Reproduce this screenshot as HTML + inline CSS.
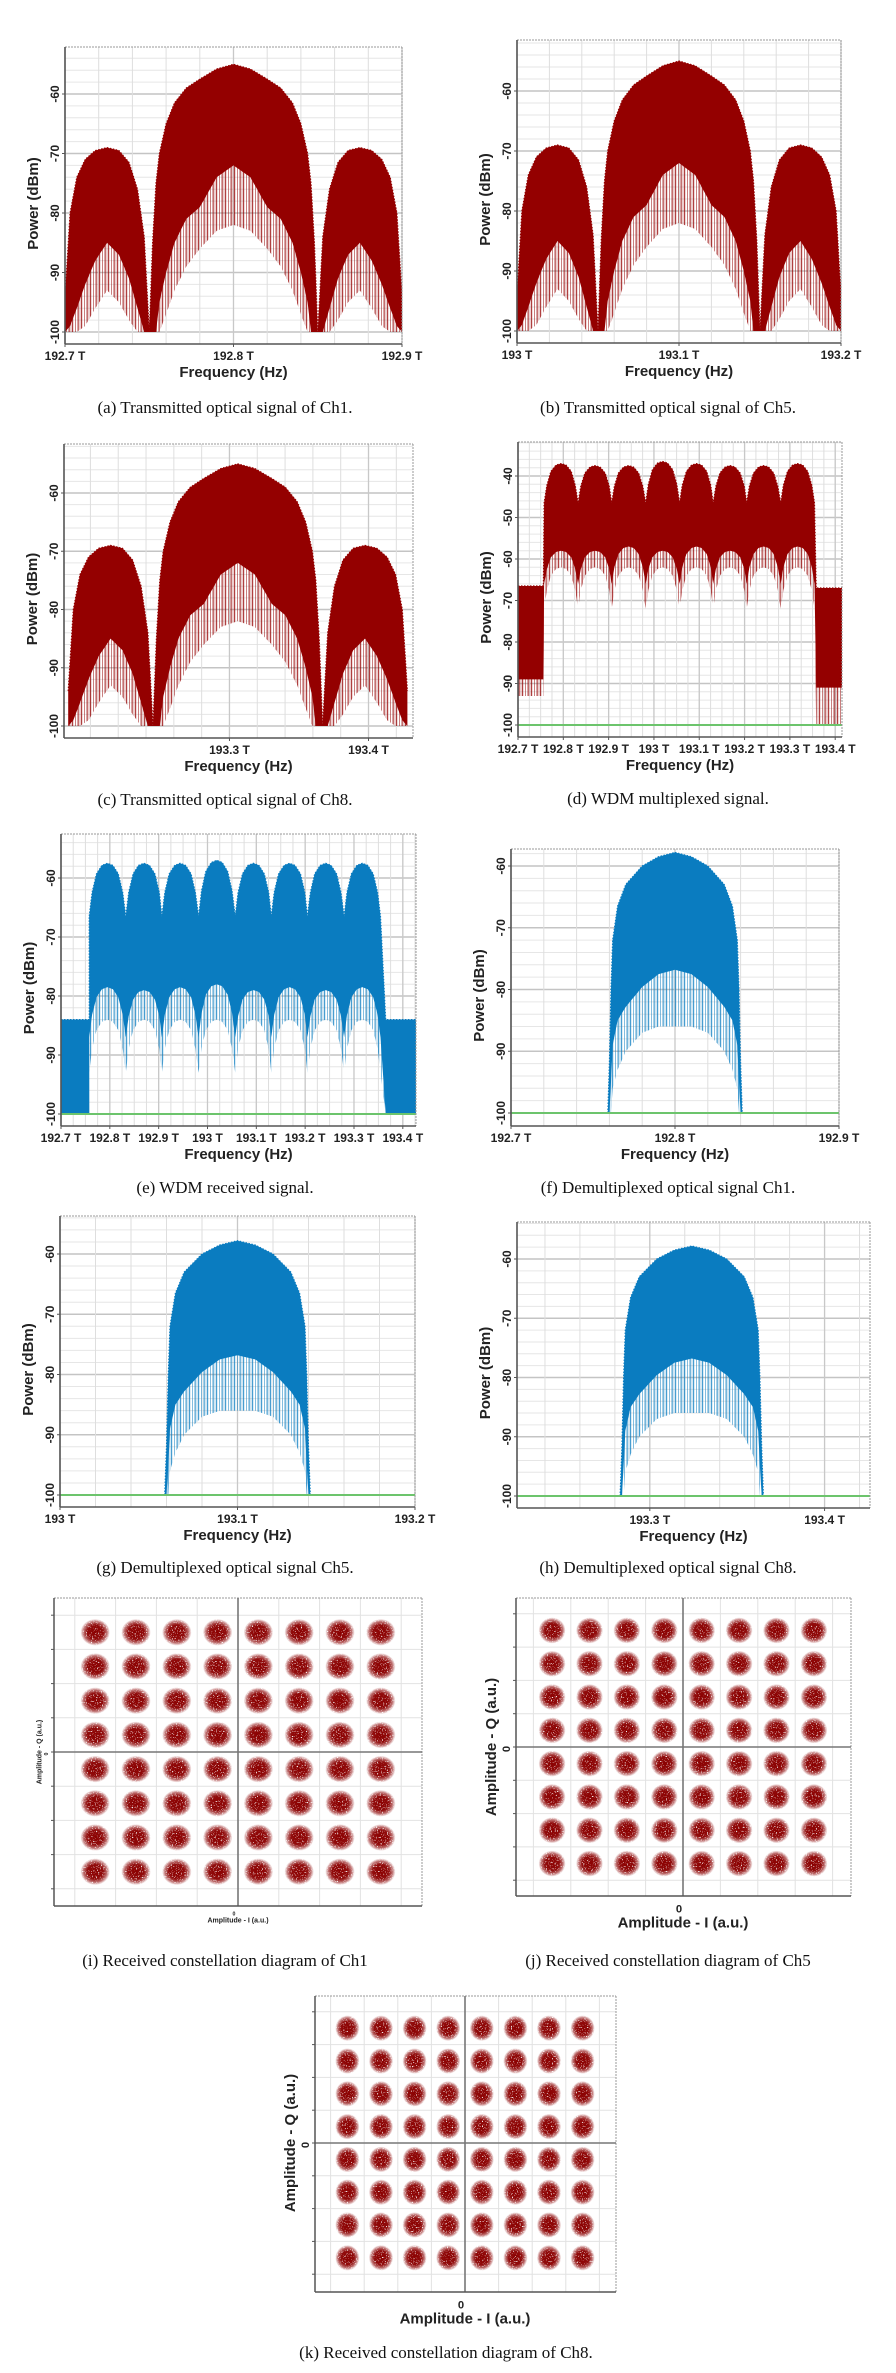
<!DOCTYPE html>
<html><head><meta charset="utf-8"><title>Optical spectra and constellations</title>
<style>
html,body{margin:0;padding:0;background:#fff;}
svg{display:block;}
.cap{font-family:"Liberation Serif",serif;font-size:17px;fill:#111;}
.tk{font-family:"Liberation Sans",sans-serif;font-size:12px;font-weight:bold;fill:#222;}
.ti{font-family:"Liberation Sans",sans-serif;font-size:15px;font-weight:bold;fill:#222;}
</style></head>
<body>
<svg id="fig" xmlns="http://www.w3.org/2000/svg" width="896" height="2373" viewBox="0 0 896 2373">
<defs>
<radialGradient id="blob">
<stop offset="0" stop-color="#8b0000" stop-opacity="1"/>
<stop offset="0.55" stop-color="#8b0000" stop-opacity="0.95"/>
<stop offset="0.8" stop-color="#8b0000" stop-opacity="0.55"/>
<stop offset="1" stop-color="#8b0000" stop-opacity="0"/>
</radialGradient>
<filter id="speck" x="0" y="0" width="1" height="1">
<feTurbulence type="fractalNoise" baseFrequency="0.8" numOctaves="1" seed="3" result="n"/>
<feColorMatrix in="n" type="matrix" values="0 0 0 0 0  0 0 0 0 0  0 0 0 0 0  0 0 0 -8 5.8" result="m"/>
<feComposite in="SourceGraphic" in2="m" operator="in"/>
</filter>
<pattern id="spikeRed" width="9" height="4" patternUnits="userSpaceOnUse">
<rect x="0" y="0" width="1.2" height="4" fill="#940000" fill-opacity="0.75"/>
<rect x="3" y="0" width="1" height="4" fill="#940000" fill-opacity="0.5"/>
<rect x="5.5" y="0" width="1.3" height="4" fill="#940000" fill-opacity="0.7"/>
<rect x="7.6" y="0" width="0.8" height="4" fill="#940000" fill-opacity="0.45"/>
</pattern>
<pattern id="spikeBlue" width="9" height="4" patternUnits="userSpaceOnUse">
<rect x="0" y="0" width="1.2" height="4" fill="#0a7cc0" fill-opacity="0.75"/>
<rect x="3" y="0" width="1" height="4" fill="#0a7cc0" fill-opacity="0.5"/>
<rect x="5.5" y="0" width="1.3" height="4" fill="#0a7cc0" fill-opacity="0.7"/>
<rect x="7.6" y="0" width="0.8" height="4" fill="#0a7cc0" fill-opacity="0.45"/>
</pattern>
</defs>
</svg>
<script>
// ---------- DATA ----------
const txOff = [-0.100,-0.097,-0.093,-0.088,-0.082,-0.075,-0.068,-0.062,-0.057,-0.053,-0.050,-0.048,-0.046,-0.044,-0.040,-0.035,-0.028,-0.020,-0.010,0.000,0.010,0.020,0.028,0.035,0.040,0.044,0.046,0.048,0.050,0.053,0.057,0.062,0.068,0.075,0.082,0.088,0.093,0.097,0.100];
const txUp  = [-94,-80,-74,-71,-69.5,-69,-69.5,-71.5,-76,-84,-100,-85,-75,-70,-65,-61.5,-59,-57.5,-55.8,-55,-55.8,-57.5,-59,-61.5,-65,-70,-75,-85,-100,-84,-76,-71.5,-69.5,-69,-69.5,-71,-74,-80,-94];
const txLo  = [-100,-99,-96,-92,-88,-85,-87,-91,-96,-100,-100,-100,-100,-95,-90,-85,-81,-79,-74,-72,-74,-79,-81,-85,-90,-95,-100,-100,-100,-100,-96,-91,-87,-85,-88,-92,-96,-99,-100];
const txSp  = [-100,-100,-100,-99,-96,-93,-95,-98,-100,-100,-100,-100,-100,-100,-97,-93,-89,-86,-83,-82,-83,-86,-89,-93,-97,-100,-100,-100,-100,-100,-100,-98,-95,-93,-96,-99,-100,-100,-100];
const txCenters = [192.8, 193.1, 193.306];

const dmOff = [-0.041,-0.040,-0.039,-0.038,-0.035,-0.030,-0.020,-0.010,0,0.010,0.020,0.030,0.035,0.038,0.039,0.040,0.041];
const dmUp  = [-100,-92,-80,-72,-66.5,-63,-60,-58.5,-57.8,-58.5,-60,-63,-66.5,-72,-80,-92,-100];
const dmLo  = [-100,-100,-95,-89,-85,-82.8,-79.6,-77.5,-76.8,-77.5,-79.6,-82.8,-85,-89,-95,-100,-100];
const dmSp  = [-100,-100,-100,-96,-93,-90,-87,-86,-86,-86,-87,-90,-93,-96,-100,-100,-100];
const dmCenters = [192.8, 193.1, 193.324];

const wdmCenters = [192.795,192.870,192.944,193.019,193.094,193.168,193.242,193.317];
const wdmSpacing = 0.0746;
const lobeT = [-0.5,-0.42,-0.3,-0.15,0,0.15,0.3,0.42];
const lobeW = [0,0.45,0.8,0.96,1,0.96,0.8,0.45];
const dPeak = [-37,-37.5,-37.5,-36.5,-37,-37.5,-37.5,-37];
const dLow  = [-58,-58,-57,-58,-57,-58,-57,-57];
const dDip = [-46.5,-66,-72], dPk = [-62];
const dSide = {lf:[192.700,192.756], top:[-66.5,-67], low:[-89,-91], sp:[-93,-100], rf:[193.358,193.415]};
const ePeak = [-57.5,-57.5,-57.5,-57,-57.5,-57.5,-57.5,-57.5];
const eLow  = [-78.5,-79,-78.5,-78,-79,-78.5,-79,-78.5];
const eDip = [-66.5,-87,-93], ePk = [-84];
const eSide = {lf:[192.700,192.758], top:[-84,-84], low:[-100,-100], sp:[-100,-100], rf:[193.365,193.427]};

const constLevels = [-7,-5,-3,-1,1,3,5,7];

// ---------- HELPERS ----------
const NS='http://www.w3.org/2000/svg';
const svg=document.getElementById('fig');
function mk(tag,attrs,parent){const e=document.createElementNS(NS,tag);for(const k in attrs)e.setAttribute(k,attrs[k]);(parent||svg).appendChild(e);return e;}
function txt(parent,x,y,s,cls,anchor,rot){const t=mk('text',{x:x,y:y,class:cls,'text-anchor':anchor||'middle'},parent);if(rot)t.setAttribute('transform','rotate(-90 '+x+' '+y+')');t.textContent=s;return t;}

function wdmSeries(peaks,lows,dip,pk,side){
  const f=[],u=[],l=[],s=[];
  for(let i=0;i<side.lf.length;i++){f.push(side.lf[i]);u.push(side.top[0]);l.push(side.low[0]);s.push(side.sp[0]);}
  for(let k=0;k<wdmCenters.length;k++){
    for(let j=0;j<lobeT.length;j++){
      const w=lobeW[j];
      f.push(wdmCenters[k]+lobeT[j]*wdmSpacing);
      u.push(dip[0]+(peaks[k]-dip[0])*w);
      l.push(dip[1]+(lows[k]-dip[1])*w);
      s.push(dip[2]+(pk[0]-dip[2])*w);
    }
  }
  f.push(wdmCenters[7]+0.5*wdmSpacing);u.push(dip[0]);l.push(dip[1]);s.push(dip[2]);
  for(let i=0;i<side.rf.length;i++){f.push(side.rf[i]);u.push(side.top[1]);l.push(side.low[1]);s.push(side.sp[1]);}
  return [f,u,l,s];
}

let clipN=0;
function spectrum(cfg,freqs,up,lo,sp){
  const g=mk('g',{});
  
  
  const xs=f=>cfg.x0+(f-cfg.f0)/(cfg.f1-cfg.f0)*(cfg.x1-cfg.x0);
  const [v1,p1,v2,p2]=cfg.yr;
  const ys=v=>p1+(v-v1)/(v2-v1)*(p2-p1);
  const bg=mk('rect',{x:cfg.x0,y:cfg.y0,width:cfg.x1-cfg.x0,height:cfg.y1-cfg.y0,fill:'#fff'},g);
  
  
  const grid=mk('g',{},g);
  
  
  for(let v=-100;ys(v)>=cfg.y0;v+=2){
    const y=ys(v);const major=(v%10===0);
    mk('line',{x1:cfg.x0,x2:cfg.x1,y1:y,y2:y,stroke:major?'#c4c4c4':'#e6e6e6','stroke-width':major?1.4:1},grid);
  }
  const st=Math.ceil(cfg.f0/cfg.minor-1e-6);
  for(let k=st;k*cfg.minor<=cfg.f1+1e-9;k++){
    const x=xs(k*cfg.minor);
    mk('line',{x1:x,x2:x,y1:cfg.y0,y2:cfg.y1,stroke:'#dedede','stroke-width':1},grid);
  }
  cfg.tx.forEach(f=>{const x=xs(f);mk('line',{x1:x,x2:x,y1:cfg.y0,y2:cfg.y1,stroke:'#c8c8c8','stroke-width':1.3},grid);});
  clipN++;
  const cp=mk('clipPath',{id:'cp'+clipN},g);
  mk('rect',{x:cfg.x0,y:cfg.y0,width:cfg.x1-cfg.x0,height:cfg.y1-cfg.y0},cp);
  const fg=mk('g',{'clip-path':'url(#cp'+clipN+')'},g);
  function poly(top,bot){
    let pts=[];
    for(let i=0;i<freqs.length;i++)pts.push(xs(freqs[i]).toFixed(1)+','+ys(top[i]).toFixed(1));
    for(let i=freqs.length-1;i>=0;i--)pts.push(xs(freqs[i]).toFixed(1)+','+ys(bot[i]).toFixed(1));
    return pts.join(' ');
  }
  const light=mk('polygon',{points:poly(up,sp),fill:cfg.color===RED?'url(#spikeRed)':'url(#spikeBlue)'},fg);
  
  
  const dark=mk('polygon',{points:poly(up,lo),fill:cfg.color},fg);
  
  
  let ptsU=[];for(let i=0;i<freqs.length;i++)ptsU.push(xs(freqs[i]).toFixed(1)+','+ys(up[i]).toFixed(1));
  mk('polyline',{points:ptsU.join(' '),fill:'none',stroke:cfg.color,'stroke-width':1.2,'stroke-dasharray':'1.5,1.5'},fg);
  if(cfg.green){
    const gl=mk('line',{x1:cfg.x0,x2:cfg.x1,y1:ys(-100),y2:ys(-100),stroke:'#6cc46c','stroke-width':2},g);
    
    
  }
  mk('line',{x1:cfg.x0,x2:cfg.x1,y1:cfg.y0,y2:cfg.y0,stroke:'#999','stroke-dasharray':'2,1'},g);
  mk('line',{x1:cfg.x1,x2:cfg.x1,y1:cfg.y0,y2:cfg.y1,stroke:'#999','stroke-dasharray':'2,1'},g);
  const ya=mk('line',{x1:cfg.x0,x2:cfg.x0,y1:cfg.y0,y2:cfg.y1,stroke:'#555','stroke-width':1.6},g);
  
  
  const xa=mk('line',{x1:cfg.x0,x2:cfg.x1,y1:cfg.y1,y2:cfg.y1,stroke:'#555','stroke-width':1.6},g);
  
  
  cfg.ty.forEach(v=>{
    const y=ys(v);
    mk('line',{x1:cfg.x0-3,x2:cfg.x0,y1:y,y2:y,stroke:'#555'},g);
    const t=txt(g,cfg.x0-6,y,String(v),'tk','middle',true);
    
    
  });
  cfg.tx.forEach((f,i)=>{
    const x=xs(f);
    mk('line',{x1:x,x2:x,y1:cfg.y1,y2:cfg.y1+3,stroke:'#555'},g);
    const t=txt(g,x,cfg.y1+16,cfg.xl[i],'tk','middle');
    
    
  });
  const yt=txt(g,cfg.x0-27,(cfg.y0+cfg.y1)/2+8,'Power (dBm)','ti','middle',true);
  
  
  const xt=txt(g,(cfg.x0+cfg.x1)/2,cfg.y1+33,'Frequency (Hz)','ti','middle');
  
  
  const cap=txt(svg,cfg.capX,cfg.capY,cfg.cap,'cap','middle');
  
  
}

function constellation(cfg){
  const g=mk('g',{});
  
  
  const xs=v=>cfg.cx+v*cfg.sx, ys=v=>cfg.cy-v*cfg.sy;
  mk('rect',{x:cfg.x0,y:cfg.y0,width:cfg.x1-cfg.x0,height:cfg.y1-cfg.y0,fill:'#fff'},g);
  for(let k=-10;k<=10;k+=2){
    const x=xs(k);if(x>cfg.x0+2&&x<cfg.x1-2)mk('line',{x1:x,x2:x,y1:cfg.y0,y2:cfg.y1,stroke:'#e2e2e2'},g);
    const y=ys(k);if(y>cfg.y0+2&&y<cfg.y1-2){mk('line',{x1:cfg.x0,x2:cfg.x1,y1:y,y2:y,stroke:'#e2e2e2'},g);mk('line',{x1:cfg.x0-3,x2:cfg.x0,y1:y,y2:y,stroke:'#555'},g);}
  }
  mk('line',{x1:cfg.x0,x2:cfg.x1,y1:cfg.y0,y2:cfg.y0,stroke:'#999','stroke-dasharray':'2,1'},g);
  mk('line',{x1:cfg.x1,x2:cfg.x1,y1:cfg.y0,y2:cfg.y1,stroke:'#999','stroke-dasharray':'2,1'},g);
  const va=mk('line',{x1:cfg.cx,x2:cfg.cx,y1:cfg.y0,y2:cfg.y1,stroke:'#777','stroke-width':1.6},g);
  
  
  const ha=mk('line',{x1:cfg.x0,x2:cfg.x1,y1:cfg.cy,y2:cfg.cy,stroke:'#777','stroke-width':1.6},g);
  
  
  mk('line',{x1:cfg.x0,x2:cfg.x0,y1:cfg.y0,y2:cfg.y1,stroke:'#555','stroke-width':1.5},g);
  mk('line',{x1:cfg.x0,x2:cfg.x1,y1:cfg.y1,y2:cfg.y1,stroke:'#555','stroke-width':1.5},g);
  const pts=mk('g',{filter:'url(#speck)'},g);
  
  
  constLevels.forEach(qi=>constLevels.forEach(ii=>{
    const c=mk('ellipse',{cx:xs(ii),cy:ys(qi),rx:cfg.sx*0.72,ry:cfg.sy*0.78,fill:'url(#blob)'},pts);
    
    
  }));
  const fs=cfg.fs;
  const z1=txt(g,cfg.cx-4,cfg.y1+fs*0.9+3,'0','ti','middle');z1.setAttribute('style','font-size:'+(fs*0.75)+'px');
  
  
  const xt=txt(g,cfg.cx,cfg.y1+fs*1.9+3,'Amplitude - I (a.u.)','ti','middle');xt.setAttribute('style','font-size:'+fs+'px');
  
  
  const z2=txt(g,cfg.x0-6,cfg.cy+2,'0','ti','middle',true);z2.setAttribute('style','font-size:'+(fs*0.75)+'px');
  
  
  const yt=txt(g,cfg.x0-6-fs*0.95,cfg.cy,'Amplitude - Q (a.u.)','ti','middle',true);yt.setAttribute('style','font-size:'+fs+'px');
  
  
  const cap=txt(svg,cfg.capX,cfg.capY,cfg.cap,'cap','middle');
  
  
}

const RED='#940000', BLUE='#0a7cc0';
const yt5=[-60,-70,-80,-90,-100];
const txCfg=[
 {name:'panel-a-tx-ch1',x0:65,x1:402,y0:47,y1:344,f0:192.7,f1:192.9,yr:[-60,94,-100,332],tx:[192.7,192.8,192.9],xl:['192.7 T','192.8 T','192.9 T'],ty:yt5,minor:0.02,color:RED,capX:225,capY:413,cap:'(a) Transmitted optical signal of Ch1.',wscale:1},
 {name:'panel-b-tx-ch5',x0:517,x1:841,y0:40,y1:343,f0:193.0,f1:193.2,yr:[-60,91,-100,331],tx:[193.0,193.1,193.2],xl:['193 T','193.1 T','193.2 T'],ty:yt5,minor:0.02,color:RED,capX:668,capY:413,cap:'(b) Transmitted optical signal of Ch5.',wscale:1},
 {name:'panel-c-tx-ch8',x0:64,x1:413,y0:444,y1:738,f0:193.181,f1:193.432,yr:[-60,493,-100,726],tx:[193.3,193.4],xl:['193.3 T','193.4 T'],ty:yt5,minor:0.02,color:RED,capX:225,capY:805,cap:'(c) Transmitted optical signal of Ch8.',wscale:1.22}
];
txCfg.forEach((c,i)=>{spectrum(c,txOff.map(o=>txCenters[i]+o*c.wscale),txUp,txLo,txSp);});
const dS=wdmSeries(dPeak,dLow,dDip,dPk,dSide);
const wdmTx=[192.7,192.8,192.9,193.0,193.1,193.2,193.3,193.4], wdmXl=['192.7 T','192.8 T','192.9 T','193 T','193.1 T','193.2 T','193.3 T','193.4 T'];
spectrum({name:'panel-d-wdm-mux',x0:518,x1:842,y0:442,y1:737,f0:192.7,f1:193.415,yr:[-40,476,-100,725],tx:wdmTx,xl:wdmXl,ty:[-40,-50,-60,-70,-80,-90,-100],minor:0.025,color:RED,green:true,capX:668,capY:804,cap:'(d) WDM multiplexed signal.'},dS[0],dS[1],dS[2],dS[3]);
const eS=wdmSeries(ePeak,eLow,eDip,ePk,eSide);
spectrum({name:'panel-e-wdm-rx',x0:61,x1:416,y0:834,y1:1126,f0:192.7,f1:193.427,yr:[-60,878,-100,1114],tx:wdmTx,xl:wdmXl,ty:yt5,minor:0.025,color:BLUE,green:true,capX:225,capY:1193,cap:'(e) WDM received signal.'},eS[0],eS[1],eS[2],eS[3]);
const dmCfg=[
 {name:'panel-f-demux-ch1',x0:511,x1:839,y0:849,y1:1126,f0:192.7,f1:192.9,yr:[-60,866,-100,1113],tx:[192.7,192.8,192.9],xl:['192.7 T','192.8 T','192.9 T'],ty:yt5,minor:0.02,color:BLUE,green:true,capX:668,capY:1193,cap:'(f) Demultiplexed optical signal Ch1.'},
 {name:'panel-g-demux-ch5',x0:60,x1:415,y0:1216,y1:1507,f0:193.0,f1:193.2,yr:[-60,1254,-100,1495],tx:[193.0,193.1,193.2],xl:['193 T','193.1 T','193.2 T'],ty:yt5,minor:0.02,color:BLUE,green:true,capX:225,capY:1573,cap:'(g) Demultiplexed optical signal Ch5.'},
 {name:'panel-h-demux-ch8',x0:517,x1:870,y0:1222,y1:1508,f0:193.224,f1:193.426,yr:[-60,1259,-100,1496],tx:[193.3,193.4],xl:['193.3 T','193.4 T'],ty:yt5,minor:0.02,color:BLUE,green:true,capX:668,capY:1573,cap:'(h) Demultiplexed optical signal Ch8.'}
];
dmCfg.forEach((c,i)=>{spectrum(c,dmOff.map(o=>dmCenters[i]+o),dmUp,dmLo,dmSp);});
constellation({name:'panel-i-constellation-ch1',x0:54,x1:422,y0:1598,y1:1906,cx:238,cy:1752,sx:20.4,sy:17.1,fs:7,capX:225,capY:1966,cap:'(i) Received constellation diagram of Ch1'});
constellation({name:'panel-j-constellation-ch5',x0:516,x1:851,y0:1598,y1:1896,cx:683,cy:1747,sx:18.7,sy:16.65,fs:15,capX:668,capY:1966,cap:'(j) Received constellation diagram of Ch5'});
constellation({name:'panel-k-constellation-ch8',x0:315,x1:616,y0:1996,y1:2292,cx:465,cy:2143,sx:16.8,sy:16.4,fs:15,capX:446,capY:2358,cap:'(k) Received constellation diagram of Ch8.'});
</script>
</body></html>
